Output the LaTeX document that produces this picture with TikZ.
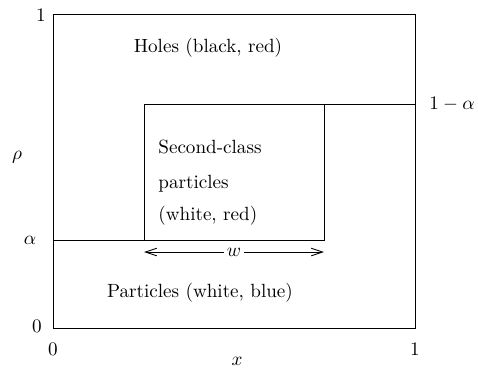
\documentclass[tikz,border=0pt]{standalone}
\usetikzlibrary{arrows.meta}
\begin{document}
\begin{tikzpicture}[x=0.523pt,y=-0.523pt,
  box/.style={draw,line width=0.45pt},
  lbl/.style={inner sep=0pt},
  wline/.style={line width=0.45pt,{Straight Barb[length=6pt,width=4pt]}-{Straight Barb[length=6pt,width=4pt]}}]
\useasboundingbox (0,0) rectangle (478,370);
\coordinate (o1) at (53,14);
\coordinate (o2) at (415,328);
\draw[box] (o1) rectangle (o2);
\coordinate (i1) at (144,104);
\coordinate (i2) at (324,240);
\draw[box] (i1) rectangle (i2);
\coordinate (la) at (53,240);
\coordinate (ra) at (415,104);
\draw[box] (la) -- (i1 |- i2);
\draw[box] (i2 |- i1) -- (ra);
\coordinate (wl) at (144,252);
\coordinate (wr) at (324,252);
\draw[wline] (wl) -- node[fill=white,inner sep=1.5pt] (wlab) {$w$} (wr);
\node[lbl] (t1) at (41,15) {1};
\node[lbl] (t0) at (37,326) {0};
\node[lbl] (b0) at (53,349) {0};
\node[lbl] (b1) at (415,349) {1};
\node[lbl] (xl) at (237,361) {$x$};
\node[lbl] (rho) at (17,157) {$\rho$};
\node[lbl] (al) at (30,240) {$\alpha$};
\node[lbl] (oma) at (452,104) {$1-\alpha$};
\node[lbl] (holes) at (208,48) {Holes (black, red)};
\node[lbl,anchor=base west] (s1) at (158,153) {Second-class};
\node[lbl,anchor=base west] (s2) at (158,188) {particles};
\node[lbl,anchor=base west] (s3) at (158,220) {(white, red)};
\node[lbl] (parts) at (200,293) {Particles (white, blue)};
\end{tikzpicture}
\end{document}
